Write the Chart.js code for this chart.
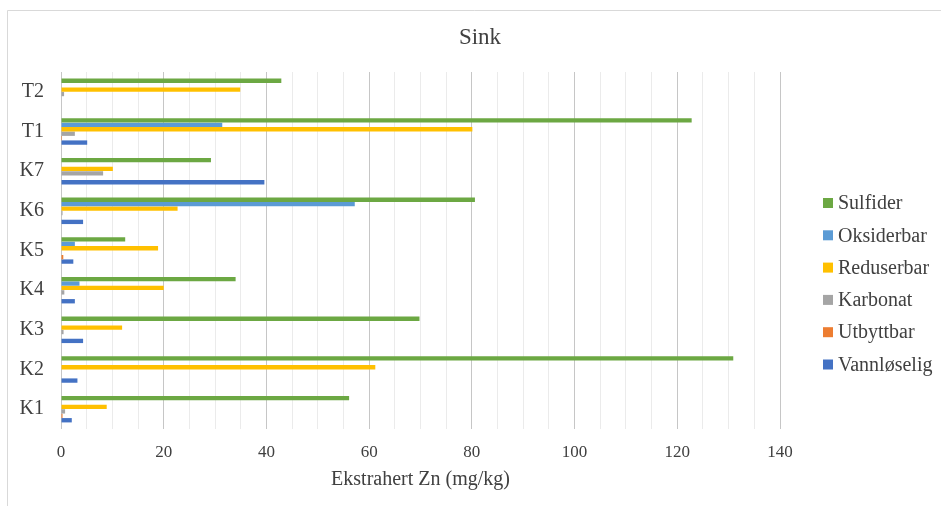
<!DOCTYPE html>
<html>
<head>
<meta charset="utf-8">
<script src="https://cdn.jsdelivr.net/npm/chart.js@4/dist/chart.umd.min.js"></script>
<style>
  html, body { margin: 0; padding: 0; background: #ffffff; }
  canvas { display: block; }
</style>
</head>
<body>
<canvas id="c" width="941" height="506"></canvas>
<script>
// Extracted zinc (mg/kg) per fraction for each sample
const categories = ['K1', 'K2', 'K3', 'K4', 'K5', 'K6', 'K7', 'T1', 'T2'];
const sulfider    = [56.1, 130.9, 69.8, 34.0, 12.5, 80.6, 29.2, 122.8, 42.9];
const oksiderbar  = [0, 0, 0, 3.6, 2.7, 57.2, 0, 31.4, 0];
const reduserbar  = [8.9, 61.2, 11.9, 20.0, 18.9, 22.7, 10.1, 80.1, 34.9];
const karbonat    = [0.8, 0, 0.5, 0.65, 0, 0.3, 8.2, 2.7, 0.6];
const utbyttbar   = [0.3, 0, 0, 0, 0.45, 0, 0, 0.2, 0];
const vannloselig = [2.1, 3.2, 4.3, 2.7, 2.4, 4.3, 39.6, 5.1, 0];
const xTicks = [0, 20, 40, 60, 80, 100, 120, 140];

const chartTitle = 'Sink';
const xTitle = 'Ekstrahert Zn (mg/kg)';

const SERIF = '"Liberation Serif", "Times New Roman", serif';
const TEXT = '#404040';

const series = [
  { label: 'Sulfider',    data: sulfider,    color: '#6CA843' },
  { label: 'Oksiderbar',  data: oksiderbar,  color: '#5B9BD5' },
  { label: 'Reduserbar',  data: reduserbar,  color: '#FFC000' },
  { label: 'Karbonat',    data: karbonat,    color: '#A5A5A5' },
  { label: 'Utbyttbar',   data: utbyttbar,   color: '#ED7D31' },
  { label: 'Vannløselig', data: vannloselig, color: '#4472C4' }
];

// Frame, title and legend painted around the plot
const decorations = {
  id: 'decorations',
  beforeDraw(chart) {
    const ctx = chart.ctx;
    ctx.save();
    ctx.fillStyle = '#ffffff';
    ctx.fillRect(0, 0, chart.width, chart.height);
    ctx.strokeStyle = '#d9d9d9';
    ctx.lineWidth = 1;
    ctx.beginPath();
    ctx.moveTo(7.5, chart.height);
    ctx.lineTo(7.5, 10.5);
    ctx.lineTo(chart.width, 10.5);
    ctx.stroke();
    ctx.restore();
  },
  afterDraw(chart) {
    const ctx = chart.ctx;
    ctx.save();
    ctx.fillStyle = TEXT;
    ctx.font = '23px ' + SERIF;
    ctx.textAlign = 'center';
    ctx.textBaseline = 'middle';
    ctx.fillText(chartTitle, 480, 38);

    ctx.font = '20px ' + SERIF;
    ctx.textAlign = 'left';
    chart.data.datasets.forEach((ds, i) => {
      const y = 203 + i * 32.3;
      ctx.fillStyle = ds.backgroundColor;
      ctx.fillRect(823, y - 5, 10, 10);
      ctx.fillStyle = TEXT;
      ctx.fillText(ds.label, 838, y + 1);
    });
    ctx.restore();
  }
};

new Chart(document.getElementById('c'), {
  type: 'bar',
  data: {
    labels: categories,
    datasets: series.map(s => ({
      label: s.label,
      data: s.data,
      backgroundColor: s.color,
      borderWidth: 0,
      categoryPercentage: 0.67,
      barPercentage: 0.98
    }))
  },
  options: {
    indexAxis: 'y',
    responsive: false,
    animation: false,
    devicePixelRatio: 1,
    layout: { padding: { left: 0, top: 72, right: 161, bottom: 0 } },
    plugins: {
      legend: { display: false },
      title: { display: false },
      tooltip: { enabled: false }
    },
    scales: {
      x: {
        min: 0,
        max: 140,
        afterFit(scale) { scale.height = 77; },
        ticks: {
          stepSize: 5,
          autoSkip: false,
          maxRotation: 0,
          padding: 13,
          color: TEXT,
          font: { family: SERIF, size: 17 },
          callback: v => (xTicks.includes(v) ? String(v) : '')
        },
        grid: {
          drawTicks: false,
          color: c => (c.tick && c.tick.value % 20 === 0 ? '#c6c6c6' : '#ebebeb'),
          lineWidth: 1
        },
        border: { display: false },
        title: {
          display: true,
          text: xTitle,
          color: TEXT,
          font: { family: SERIF, size: 20 },
          padding: { top: 0, bottom: 14 }
        }
      },
      y: {
        reverse: true,
        afterFit(scale) { scale.width = 61; },
        grid: { display: false, drawTicks: false },
        border: { display: false },
        ticks: {
          padding: 17,
          color: TEXT,
          font: { family: SERIF, size: 20 }
        }
      }
    }
  },
  plugins: [decorations]
});
</script>
</body>
</html>
